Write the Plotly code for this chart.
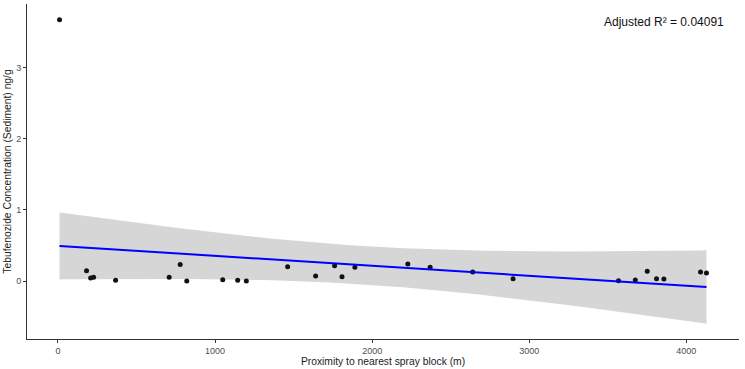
import numpy as np
import plotly.graph_objects as go

# Data
proximity_m = [10, 182, 208, 227, 367, 708, 778, 820, 1049, 1144, 1199, 1462, 1640, 1761,
               1808, 1890, 2227, 2369, 2640, 2897, 3568, 3675, 3751, 3810, 3857, 4090, 4128]
tebufenozide = [3.67, 0.148, 0.046, 0.056, 0.014, 0.056, 0.236, 0.004, 0.023, 0.014, 0.004,
                0.204, 0.074, 0.218, 0.064, 0.195, 0.241, 0.195, 0.13, 0.036, 0.008, 0.018,
                0.139, 0.036, 0.032, 0.13, 0.116]
x_ticks = [0, 1000, 2000, 3000, 4000]
y_ticks = [0, 1, 2, 3]
annotation_text = "Adjusted R² = 0.04091"

x = np.array(proximity_m, dtype=float)
y = np.array(tebufenozide, dtype=float)
n = len(x)

# Linear fit with 95% confidence band (like geom_smooth(method="lm"))
slope, intercept = np.polyfit(x, y, 1)
resid = y - (slope * x + intercept)
s = np.sqrt(np.sum(resid ** 2) / (n - 2))
xm = x.mean()
sxx = np.sum((x - xm) ** 2)
t_crit = 2.0595  # t(0.975, df=25)
xf = np.linspace(x.min(), x.max(), 80)
yf = slope * xf + intercept
se = s * np.sqrt(1.0 / n + (xf - xm) ** 2 / sxx)
upper = yf + t_crit * se
lower = yf - t_crit * se

fig = go.Figure()
fig.add_trace(go.Scatter(
    x=np.concatenate([xf, xf[::-1]]), y=np.concatenate([upper, lower[::-1]]),
    fill="toself", fillcolor="rgb(214,214,214)", line=dict(width=0),
    mode="lines", hoverinfo="skip", showlegend=False))
fig.add_trace(go.Scatter(
    x=x, y=y, mode="markers",
    marker=dict(size=5, color="#111111"), showlegend=False))
fig.add_trace(go.Scatter(
    x=xf, y=yf, mode="lines", line=dict(color="#0000FF", width=2), showlegend=False))

fig.update_layout(
    width=745, height=369,
    margin=dict(l=27, r=6, t=4, b=28),
    paper_bgcolor="white", plot_bgcolor="white",
    font=dict(family="Liberation Sans, Arial, sans-serif", color="#000000"),
    xaxis=dict(
        range=[-197, 4335], tickvals=x_ticks, ticktext=[str(v) for v in x_ticks],
        showgrid=False, zeroline=False, showline=True, linecolor="#333333", linewidth=1,
        ticks="outside", ticklen=3, tickcolor="#333333",
        tickfont=dict(size=9, color="#4D4D4D"),
        title=dict(text="Proximity to nearest spray block (m)", font=dict(size=10.3, color="#222222"), standoff=2),
    ),
    yaxis=dict(
        range=[-0.81, 3.89], tickvals=y_ticks, ticktext=[str(v) for v in y_ticks],
        showgrid=False, zeroline=False, showline=True, linecolor="#333333", linewidth=1,
        ticks="outside", ticklen=3, tickcolor="#333333",
        tickfont=dict(size=9, color="#4D4D4D"),
        title=dict(text="Tebufenozide Concentration (Sediment) ng/g", font=dict(size=10.3, color="#222222"), standoff=2),
    ),
    annotations=[dict(
        text=annotation_text, x=1.0, y=3.64, xref="paper", yref="y",
        xanchor="right", yanchor="middle", showarrow=False, xshift=-13,
        font=dict(size=12, color="#111111"))],
)

fig.write_html("out.html")
